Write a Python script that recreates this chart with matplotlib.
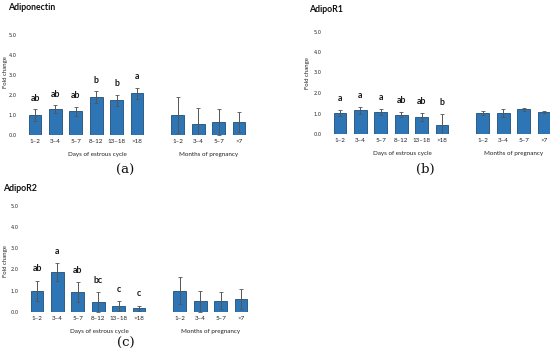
import matplotlib.pyplot as plt
import matplotlib.transforms as mtransforms

plt.rcParams['font.family'] = ['Lato', 'DejaVu Sans']

estrous_labels = ['1\u20132', '3\u20134', '5\u20137', '8\u201312', '13\u201318', '>18']
pregnancy_labels = ['1\u20132', '3\u20134', '5\u20137', '>7']

# Adiponectin
adipo_est = [1.0, 1.3, 1.18, 1.9, 1.73, 2.08]
adipo_est_err = [0.3, 0.2, 0.24, 0.3, 0.29, 0.29]
adipo_est_sig = ['ab', 'ab', 'ab', 'b', 'b', 'a']
adipo_preg = [1.0, 0.55, 0.65, 0.63]
adipo_preg_err = [0.92, 0.82, 0.65, 0.5]

# AdipoR1
r1_est = [1.02, 1.15, 1.07, 0.94, 0.82, 0.44]
r1_est_err = [0.16, 0.16, 0.15, 0.13, 0.21, 0.54]
r1_est_sig = ['a', 'a', 'a', 'ab', 'ab', 'b']
r1_preg = [1.02, 1.02, 1.2, 1.08]
r1_preg_err = [0.08, 0.21, 0.08, 0.04]

# AdipoR2
r2_est = [1.0, 1.89, 0.95, 0.48, 0.28, 0.17]
r2_est_err = [0.47, 0.42, 0.47, 0.47, 0.23, 0.13]
r2_est_sig = ['ab', 'a', 'ab', 'bc', 'c', 'c']
r2_preg = [1.0, 0.5, 0.53, 0.61]
r2_preg_err = [0.63, 0.48, 0.39, 0.45]

BAR = '#2e75b6'
EDGE = '#1f4e79'
W, H = 550, 355
SCALE = 20.4  # px per category slot


def make_panel(fig, x0, y0, ypx, title, est, est_err, sig, preg, preg_err,
               letter, tpos, fpos, lpos):
    # x0: pixel x of first bar, y0: pixel y of value 0, ypx: pixels per unit
    xs = list(range(len(est)))
    xp = [7 + i for i in range(len(preg))]
    left = x0 - 0.7 * SCALE
    right = x0 + 10.7 * SCALE
    top = y0 - 5.5 * ypx
    ax = fig.add_axes([left / W, (H - y0) / H, (right - left) / W, (y0 - top) / H])
    ekw = dict(ecolor='#555555', elinewidth=0.7, capsize=1.2, capthick=0.6)
    ax.bar(xs, est, width=0.62, color=BAR, edgecolor=EDGE, linewidth=0.6,
           yerr=est_err, error_kw=ekw)
    ax.bar(xp, preg, width=0.62, color=BAR, edgecolor=EDGE, linewidth=0.6,
           yerr=preg_err, error_kw=ekw)
    for x, v, e, s in zip(xs, est, est_err, sig):
        ax.text(x, v + e + 0.55, s, ha='center', va='center',
                fontsize=6.4, fontweight='bold', color='#1a1a1a')
    ax.set_xlim(-0.7, 10.7)
    ax.set_ylim(0, 5.5)
    ax.set_yticks([0, 1, 2, 3, 4, 5])
    ax.set_yticklabels(['%.1f' % v for v in [0, 1, 2, 3, 4, 5]],
                       family='DejaVu Sans')
    ax.set_xticks(xs + xp)
    ax.set_xticklabels(estrous_labels + pregnancy_labels)
    ax.tick_params(axis='both', length=0, labelsize=4.5, colors='#222222')
    ax.tick_params(axis='y', pad=3, labelsize=3.6)
    ax.tick_params(axis='x', pad=3)
    for sp in ax.spines.values():
        sp.set_visible(False)
    tr = mtransforms.blended_transform_factory(ax.transData, ax.transAxes)
    yb = -(19.0 / (y0 - top))
    ax.text(3.05, yb, 'Days of estrous cycle', transform=tr,
            ha='center', va='center', fontsize=4.5, color='#222222')
    ax.text(8.5, yb, 'Months of pregnancy', transform=tr,
            ha='center', va='center', fontsize=4.5, color='#222222')
    fig.text(tpos[0] / W, 1 - tpos[1] / H, title, ha='left', va='center',
             fontsize=6.3, fontweight='bold', color='#111111')
    fig.text(fpos[0] / W, 1 - fpos[1] / H, 'Fold change', rotation=90,
             ha='center', va='center', fontsize=4.3, color='#222222')
    fig.text(lpos[0] / W, 1 - lpos[1] / H, '(%s)' % letter, ha='center',
             va='center', fontsize=9.5, family='DejaVu Serif', color='#111111')
    return ax


fig = plt.figure(figsize=(5.5, 3.55), dpi=100)

make_panel(fig, 35, 135, 20.0, 'Adiponectin', adipo_est, adipo_est_err,
           adipo_est_sig, adipo_preg, adipo_preg_err, 'a',
           (8, 7), (6, 72), (125, 170))
make_panel(fig, 340, 134, 20.5, 'AdipoR1', r1_est, r1_est_err,
           r1_est_sig, r1_preg, r1_preg_err, 'b',
           (309, 10), (307, 73), (425, 169))
make_panel(fig, 37, 312, 21.3, 'AdipoR2', r2_est, r2_est_err,
           r2_est_sig, r2_preg, r2_preg_err, 'c',
           (3, 189), (6, 261), (126, 343))

fig.savefig('out.png', dpi=100)
